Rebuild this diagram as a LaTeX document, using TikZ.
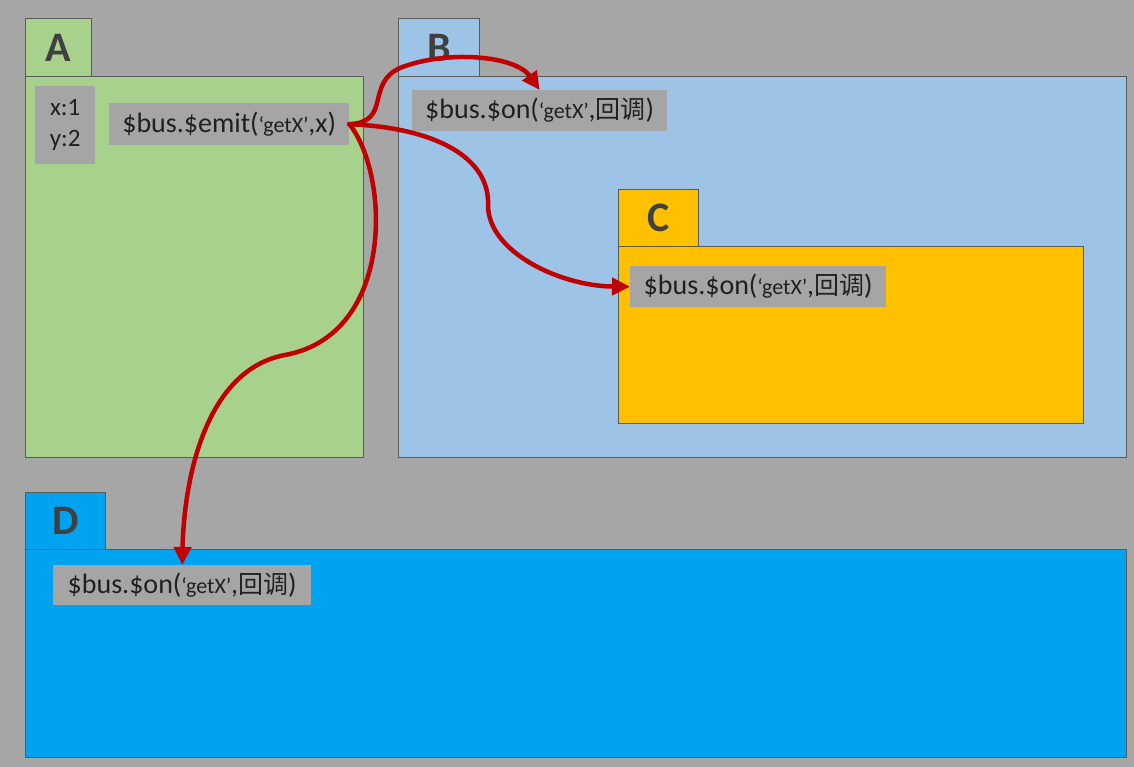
\documentclass[tikz,border=0pt]{standalone}
\usepackage{fontspec}
\setmainfont{Carlito}
\newfontfamily\cjk{Noto Sans CJK SC}
\usepackage{xcolor}
\usepackage{tikz}
\usetikzlibrary{arrows.meta, positioning}

\definecolor{bggray}{HTML}{A6A6A6}
\definecolor{lblgray}{HTML}{A5A5A5}
\definecolor{agreen}{HTML}{A9D18E}
\definecolor{bblue}{HTML}{9DC3E6}
\definecolor{corange}{HTML}{FFC000}
\definecolor{dblue}{HTML}{00A3EF}
\definecolor{edgegray}{HTML}{5A5A5A}
\definecolor{busred}{HTML}{C00000}
\definecolor{tabtext}{HTML}{404040}
\definecolor{calltext}{HTML}{202020}

\newcommand{\getx}{{\fontsize{22}{22}\selectfont `getX'}}
\newcommand{\cb}{{\cjk\fontsize{25}{25}\selectfont 回调}}

\begin{document}
\begin{tikzpicture}[x=1pt, y=-1pt,
        panel/.style={draw=edgegray, line width=0.9pt, rectangle, anchor=north west, inner sep=0pt},
        tab/.style={panel, font=\fontsize{42}{42}\selectfont\bfseries, text=tabtext},
        call/.style={rectangle, fill=lblgray, inner sep=0pt, text=calltext, font=\fontsize{28}{28}\selectfont, anchor=north west},
        bus/.style={-{Triangle[length=18pt, width=17pt]}, line width=4.5pt, draw=busred, line cap=round}
    ]

    % Background
    \fill[bggray] (0,0) rectangle (1134,767);

    % Panel A
    \node[tab, fill=agreen, minimum width=66pt, minimum height=58pt] (tabA) at (25,18) {A};
    \node[panel, fill=agreen, minimum width=338pt, minimum height=381pt] (boxA) at (25,76) {};

    % Panel B
    \node[tab, fill=bblue, minimum width=81pt, minimum height=58pt] (tabB) at (398,18) {B};
    \node[panel, fill=bblue, minimum width=728pt, minimum height=381pt] (boxB) at (398,76) {};

    % Panel C
    \node[tab, fill=corange, minimum width=80pt, minimum height=57pt] (tabC) at (618,189) {C};
    \node[panel, fill=corange, minimum width=465pt, minimum height=177pt] (boxC) at (618,246) {};

    % Panel D
    \node[tab, fill=dblue, minimum width=80pt, minimum height=57pt] (tabD) at (25,492) {D};
    \node[panel, fill=dblue, minimum width=1101pt, minimum height=208pt] (boxD) at (25,549) {};

    % Calls
    \node[call, font=\fontsize{25}{25}\selectfont, minimum width=60pt, minimum height=78pt, align=center] (data) at (35,86) {x:1\\[6pt]y:2};
    \node[call, minimum width=240pt, minimum height=42pt] (emit) at (109,103) {\$bus.\$emit(\getx,x)};
    \node[call, minimum width=255pt, minimum height=41pt] (onB) at (412,90) {\$bus.\$on(\getx,\cb)};
    \node[call, minimum width=256pt, minimum height=41pt] (onC) at (630,266) {\$bus.\$on(\getx,\cb)};
    \node[call, minimum width=258pt, minimum height=40pt] (onD) at (53,565) {\$bus.\$on(\getx,\cb)};

    % Event arrows
    \draw[bus] (emit.east) .. controls (392,122) and (365,84) .. (400,68)
        .. controls (445,50) and (515,55) .. (onB.north);
    \draw[bus] (emit.east) .. controls (440,128) and (490,160) .. (488,205)
        .. controls (488,252) and (560,286) .. (onC.west);
    \draw[bus] (emit.east) .. controls (390,175) and (395,335) .. (285,355)
        .. controls (205,370) and (184,480) .. (onD.north);
\end{tikzpicture}
\end{document}
